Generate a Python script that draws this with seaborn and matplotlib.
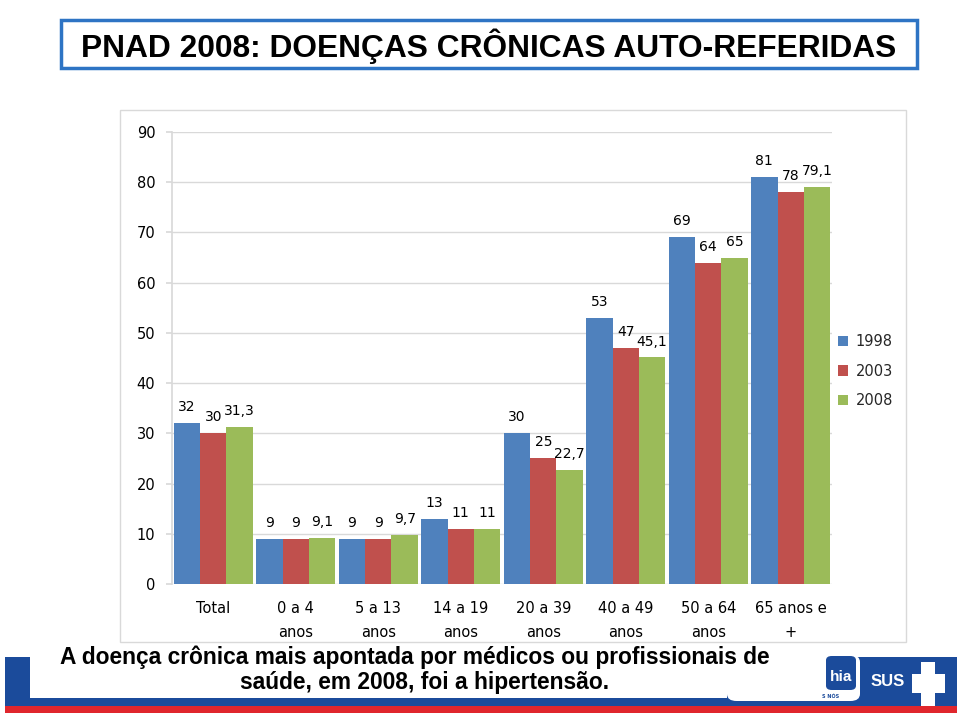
import matplotlib
matplotlib.use("Agg")
import matplotlib.pyplot as plt
from matplotlib.patches import Rectangle, Patch, FancyBboxPatch
from matplotlib import font_manager
import seaborn as sns
import pandas as pd

# ---- data ----
categories = ["Total", "0 a 4\nanos", "5 a 13\nanos", "14 a 19\nanos",
              "20 a 39\nanos", "40 a 49\nanos", "50 a 64\nanos", "65 anos e\n+"]
series_names = ["1998", "2003", "2008"]
v1998 = [32, 9, 9, 13, 30, 53, 69, 81]
v2003 = [30, 9, 9, 11, 25, 47, 64, 78]
v2008 = [31.3, 9.1, 9.7, 11, 22.7, 45.1, 65, 79.1]
yticks = [0, 10, 20, 30, 40, 50, 60, 70, 80, 90]
colors = ["#4F81BD", "#C0504D", "#9BBB59"]

title = "PNAD 2008: DOENÇAS CRÔNICAS AUTO-REFERIDAS"
footer_l1 = "A doença crônica mais apontada por médicos ou profissionais de"
footer_l2 = "saúde, em 2008, foi a hipertensão."

rows = []
for name, vals in zip(series_names, [v1998, v2003, v2008]):
    for c, v in zip(categories, vals):
        rows.append({"cat": c, "ano": name, "valor": v})
df = pd.DataFrame(rows)

sns.set_theme(style="white")
plt.rcParams["font.family"] = ["DejaVu Sans"]

installed = {f.name for f in font_manager.fontManager.ttflist}
narrow = None
for cand in ["Liberation Sans Narrow", "DejaVu Sans Condensed", "Liberation Sans", "Roboto", "DejaVu Sans"]:
    if cand in installed:
        narrow = cand
        break

W, H = 960, 716
fig = plt.figure(figsize=(W / 100, H / 100), dpi=100)
fig.patch.set_facecolor("white")

def fx(x):
    return x / W

def fy(y):
    return 1 - y / H

renderer = fig.canvas.get_renderer()

def fit(txt, target_w, size0):
    bb = txt.get_window_extent(renderer=renderer)
    if bb.width > 0:
        txt.set_fontsize(size0 * target_w / bb.width)

# chart frame
fig.patches.append(Rectangle((fx(120), fy(642)), fx(906) - fx(120), fy(110) - fy(642),
                             transform=fig.transFigure, fill=False,
                             edgecolor="#D9D9D9", linewidth=1.0, zorder=0))

# title box
fig.patches.append(Rectangle((fx(61), fy(68)), fx(917) - fx(61), fy(20) - fy(68),
                             transform=fig.transFigure, facecolor="white",
                             edgecolor="#2E74C4", linewidth=2.5, zorder=1))
t_title = fig.text(fx(489), fy(46), title, ha="center", va="center", fontsize=24,
                   fontweight="bold", family=narrow, color="black")
fit(t_title, 818, 24)

ax = fig.add_axes([fx(172), fy(584), fx(832) - fx(172), fy(132) - fy(584)])
sns.barplot(data=df, x="cat", y="valor", hue="ano", hue_order=series_names,
            palette=colors, saturation=1, width=0.96, ax=ax, legend=False,
            errorbar=None, zorder=3, linewidth=0)

ax.set_ylim(0, 90)
ax.set_xlim(-0.5, len(categories) - 0.5)
ax.set_yticks(yticks)
ax.set_yticklabels([str(t) for t in yticks])
ax.set_xlabel("")
ax.set_ylabel("")
ax.grid(axis="y", color="#D9D9D9", linewidth=1.0, zorder=0)
ax.set_axisbelow(True)
for s in ["top", "right", "bottom"]:
    ax.spines[s].set_visible(False)
ax.spines["left"].set_color("#D9D9D9")
ax.tick_params(axis="y", length=4, color="#D9D9D9", pad=8, labelsize=10.5, labelcolor="black", left=True)
ax.tick_params(axis="x", length=0, pad=12, labelsize=10.5, labelcolor="black")
for lab in ax.get_xticklabels():
    lab.set_linespacing(1.75)

def fmt(v):
    return ("%g" % v).replace(".", ",")

for cont in ax.containers:
    for p in cont:
        h = p.get_height()
        ax.annotate(fmt(h), (p.get_x() + p.get_width() / 2, h), xytext=(0, 11.5),
                    textcoords="offset points", ha="center", va="center",
                    fontsize=10, color="black", zorder=5)

handles = [Patch(facecolor=c, edgecolor="none") for c in colors]
fig.legend(handles, series_names, loc="upper left", bbox_to_anchor=(fx(838), fy(334)),
           frameon=False, fontsize=10.5, handlelength=0.7, handleheight=0.7,
           handletextpad=0.5, labelspacing=1.0, borderpad=0, borderaxespad=0)

# footer band
fig.patches.append(Rectangle((fx(5), fy(713)), fx(957) - fx(5), fy(706) - fy(713),
                             transform=fig.transFigure, facecolor="#E0262D", edgecolor="none", zorder=1))
fig.patches.append(Rectangle((fx(5), fy(706)), fx(957) - fx(5), fy(657) - fy(706),
                             transform=fig.transFigure, facecolor="#1B4B9B", edgecolor="none", zorder=1))
fig.patches.append(Rectangle((fx(30), fy(698)), fx(727) - fx(30), fy(644) - fy(698),
                             transform=fig.transFigure, facecolor="white", edgecolor="none", zorder=2))
fig.patches.append(Rectangle((fx(727), fy(660)), fx(825) - fx(727), fy(644) - fy(660),
                             transform=fig.transFigure, facecolor="white", edgecolor="none", zorder=2))
# Bahia logo approximation
fig.patches.append(FancyBboxPatch((fx(727), fy(701)), fx(860) - fx(727), fy(655) - fy(701),
                                  boxstyle="round,pad=0,rounding_size=0.01",
                                  transform=fig.transFigure, facecolor="white", edgecolor="none", zorder=2))
fig.patches.append(FancyBboxPatch((fx(826), fy(690)), fx(856) - fx(826), fy(656) - fy(690),
                                  boxstyle="round,pad=0,rounding_size=0.006",
                                  transform=fig.transFigure, facecolor="#1B4B9B", edgecolor="none", zorder=3))
fig.text(fx(841), fy(677), "hia", ha="center", va="center", fontsize=11, fontweight="bold",
         color="white", family=narrow, zorder=6)
fig.text(fx(831), fy(696), "S NÓS", ha="center", va="center", fontsize=3.5, fontweight="bold",
         color="#1B4B9B", zorder=4)
# SUS logo
fig.text(fx(888), fy(682), "SUS", ha="center", va="center", fontsize=12, fontweight="bold",
         color="white", family=narrow, zorder=4)
fig.patches.append(Rectangle((fx(912), fy(693)), fx(945) - fx(912), fy(674) - fy(693),
                             transform=fig.transFigure, facecolor="white", edgecolor="none", zorder=3))
fig.patches.append(Rectangle((fx(921), fy(706)), fx(935) - fx(921), fy(662) - fy(706),
                             transform=fig.transFigure, facecolor="white", edgecolor="none", zorder=3))

t1 = fig.text(fx(415), fy(657), footer_l1, ha="center", va="center", fontsize=17,
              fontweight="bold", family=narrow, color="black", zorder=5)
fit(t1, 714, 17)
t2 = fig.text(fx(425), fy(682), footer_l2, ha="center", va="center", fontsize=t1.get_fontsize(),
              fontweight="bold", family=narrow, color="black", zorder=5)

fig.savefig("out.png", dpi=100, facecolor="white")
